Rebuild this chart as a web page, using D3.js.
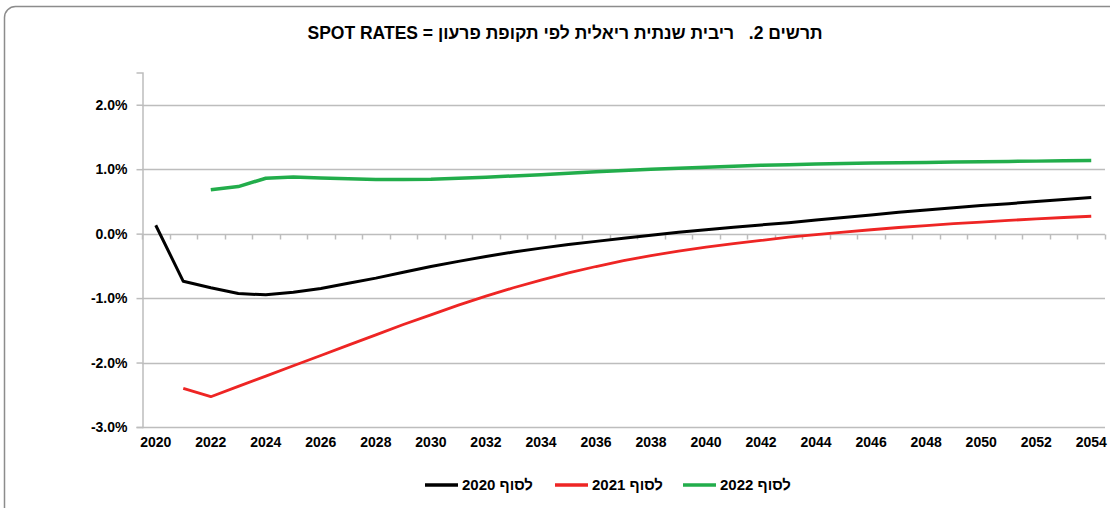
<!DOCTYPE html>
<html>
<head>
<meta charset="utf-8">
<script src="https://cdn.jsdelivr.net/npm/d3@7"></script>
<style>
  body { margin: 0; background: #fff; }
  svg { display: block; font-family: "Liberation Sans", Arial, "DejaVu Sans", sans-serif; }
</style>
</head>
<body>
<div id="container"></div>
<script>
// the data, years go 2020 to 2054, values are in percent
const years = d3.range(2020, 2055);
// end of 2020 (black)
const rates2020 = [0.13, -0.74, -0.84, -0.93, -0.95, -0.91, -0.85, -0.77, -0.69, -0.60,
  -0.51, -0.43, -0.355, -0.285, -0.225, -0.17, -0.12, -0.07, -0.025, 0.02,
  0.06, 0.10, 0.135, 0.17, 0.21, 0.25, 0.29, 0.33, 0.365, 0.40,
  0.435, 0.465, 0.50, 0.53, 0.56];
// end of 2021 (red), starts a year later
const rates2021 = [null, -2.40, -2.53, -2.37, -2.21, -2.05, -1.89, -1.73, -1.57, -1.41,
  -1.26, -1.11, -0.97, -0.84, -0.72, -0.61, -0.51, -0.42, -0.34, -0.27,
  -0.21, -0.155, -0.105, -0.055, -0.015, 0.025, 0.06, 0.095, 0.125, 0.155,
  0.18, 0.205, 0.23, 0.25, 0.27];
// end of 2022 (green), starts two years later
const rates2022 = [null, null, 0.68, 0.73, 0.86, 0.88, 0.865, 0.85, 0.84, 0.84,
  0.845, 0.86, 0.875, 0.895, 0.915, 0.935, 0.96, 0.98, 1.0, 1.015,
  1.03, 1.045, 1.06, 1.07, 1.08, 1.088, 1.095, 1.10, 1.105, 1.11,
  1.115, 1.12, 1.125, 1.13, 1.135];
const seriesNames = ["לסוף 2020", "לסוף 2021", "לסוף 2022"];
const yTicks = [-3, -2, -1, 0, 1, 2];
const xLabelYears = d3.range(2020, 2055, 2);
const chartTitle = "תרשים 2.   ריבית שנתית ריאלית לפי תקופת פרעון = SPOT RATES";

// everything that is the chart goes in here
const CH = {};
CH.W = 1110;
CH.H = 508;
CH.colors = ["#000000", "#ee2524", "#22ad4b"];
CH.widths = [3, 2.8, 3.5];

CH.svg = d3.select("#container").append("svg")
  .attr("width", CH.W)
  .attr("height", CH.H);

// frame round the whole thing, the right and bottom edge fall off the picture
CH.svg.append("rect")
  .attr("x", 4.5).attr("y", 6.5)
  .attr("width", 1200).attr("height", 600)
  .attr("rx", 11)
  .attr("fill", "none")
  .attr("stroke", "#8c8c8c")
  .attr("stroke-width", 1.5);

// title, spaces kept so the gap after the number stays
CH.svg.append("text")
  .attr("x", 565)
  .attr("y", 39)
  .attr("direction", "rtl")
  .attr("text-anchor", "middle")
  .attr("font-size", 17.5)
  .attr("font-weight", "bold")
  .style("white-space", "pre")
  .text(chartTitle);

// scales
CH.x = d3.scaleBand().domain(years).range([142, 1105]).padding(0);
CH.y = d3.scaleLinear().domain([-3, 2.5]).range([427, 72.5]);
CH.cx = d => CH.x(d) + CH.x.bandwidth() / 2;

// gridlines
CH.svg.append("g")
  .selectAll("line")
  .data(yTicks)
  .join("line")
  .attr("x1", 142).attr("x2", 1105)
  .attr("y1", d => Math.round(CH.y(d)) + 0.5)
  .attr("y2", d => Math.round(CH.y(d)) + 0.5)
  .attr("stroke", "#bdbdbd")
  .attr("stroke-width", 1.5);

// y axis with d3 axis, plain hyphen for minus like the original
CH.yAxis = CH.svg.append("g")
  .attr("transform", "translate(142.5,0)")
  .call(d3.axisLeft(CH.y).tickValues(yTicks).tickSize(6).tickPadding(9)
    .tickFormat(d => (d < 0 ? "-" : "") + Math.abs(d).toFixed(1) + "%"));
CH.yAxis.select(".domain").attr("stroke", "#bdbdbd").attr("stroke-width", 1.5);
CH.yAxis.selectAll(".tick line").attr("stroke", "#bdbdbd").attr("stroke-width", 1.5);
CH.yAxis.selectAll(".tick text")
  .attr("font-size", 14).attr("font-weight", "bold")
  .attr("font-family", "Liberation Sans, Arial, sans-serif")
  .attr("fill", "#000");

// x axis is drawn at zero, tick marks are between the categories
CH.zeroY = Math.round(CH.y(0)) + 0.5;
CH.boundaries = years.map(d => CH.x(d)).concat([1105]);
CH.svg.append("g")
  .selectAll("line")
  .data(CH.boundaries)
  .join("line")
  .attr("x1", d => Math.round(d) + 0.5).attr("x2", d => Math.round(d) + 0.5)
  .attr("y1", CH.zeroY).attr("y2", CH.zeroY + 5)
  .attr("stroke", "#bdbdbd")
  .attr("stroke-width", 1.5);

// year labels under the plot, every second one
CH.svg.append("g")
  .selectAll("text")
  .data(xLabelYears)
  .join("text")
  .attr("x", d => CH.cx(d))
  .attr("y", 447)
  .attr("text-anchor", "middle")
  .attr("font-size", 14)
  .attr("font-weight", "bold")
  .text(d => d);

// the three lines
CH.allSeries = [rates2020, rates2021, rates2022];
CH.line = d3.line()
  .defined(d => d.v !== null)
  .x(d => CH.cx(d.year))
  .y(d => CH.y(d.v));
CH.svg.append("g")
  .selectAll("path")
  .data(CH.allSeries)
  .join("path")
  .attr("d", s => CH.line(s.map((v, i) => ({ year: years[i], v: v }))))
  .attr("fill", "none")
  .attr("stroke", (s, i) => CH.colors[i])
  .attr("stroke-width", (s, i) => CH.widths[i])
  .attr("stroke-linejoin", "round");

// legend at the bottom, swatch on the left of each label
CH.legendX = [425, 555, 683];
CH.legend = CH.svg.append("g");
seriesNames.forEach((name, i) => {
  const g = CH.legend.append("g");
  g.append("line")
    .attr("x1", CH.legendX[i]).attr("x2", CH.legendX[i] + 33)
    .attr("y1", 485).attr("y2", 485)
    .attr("stroke", CH.colors[i])
    .attr("stroke-width", 3.5);
  const t = g.append("text")
    .attr("y", 490)
    .attr("direction", "rtl")
    .attr("text-anchor", "middle")
    .attr("font-size", 15)
    .attr("font-weight", "bold")
    .text(name);
  // measure the text so the left edge sits after the swatch
  const len = t.node().getComputedTextLength();
  t.attr("x", CH.legendX[i] + 37 + len / 2);
});
</script>
</body>
</html>
